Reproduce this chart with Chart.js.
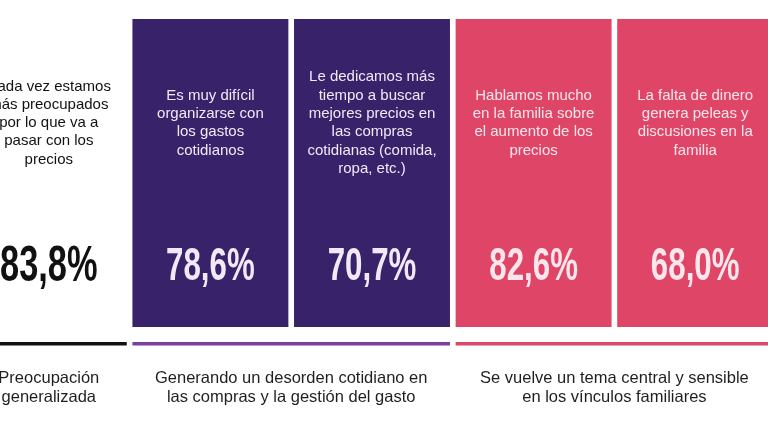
<!DOCTYPE html>
<html>
<head>
<meta charset="utf-8">
<script src="https://cdn.jsdelivr.net/npm/chart.js@4.4.1/dist/chart.umd.min.js"></script>
<style>
	html, body {
		margin: 0;
		padding: 0;
		background: #fff;
		overflow: hidden;
	}
	#wrap {
		position: absolute;
		left: -32px;
		top: 0;
		width: 808px;
		height: 432px;
	}
</style>
</head>
<body>
<div id="wrap"><canvas id="panelsChart" width="808" height="432"></canvas></div>
<script>
const panelsCanvas = document.getElementById("panelsChart");

//////////////////////////////// Data

const statements = [
	["Cada vez estamos", "más preocupados", "por lo que va a", "pasar con los", "precios"],
	["Es muy difícil", "organizarse con", "los gastos", "cotidianos"],
	["Le dedicamos más", "tiempo a buscar", "mejores precios en", "las compras", "cotidianas (comida,", "ropa, etc.)"],
	["Hablamos mucho", "en la familia sobre", "el aumento de los", "precios"],
	["La falta de dinero", "genera peleas y", "discusiones en la", "familia"],
];
const percentages = [83.8, 78.6, 70.7, 82.6, 68.0];

const groupCaptions = [
	["Preocupación", "generalizada"],
	["Generando un desorden cotidiano en", "las compras y la gestión del gasto"],
	["Se vuelve un tema central y sensible", "en los vínculos familiares"],
];
const groupFirst = [0, 1, 3];
const groupLast = [0, 2, 4];

// styles
const panelColors = ["#ffffff", "#38226a", "#38226a", "#de4566", "#de4566"];
const textColors = ["#111111", "#f1e9f7", "#f1e9f7", "#fce6ec", "#fce6ec"];
const numberSizes = [1.1, 1, 1, 1, 1];
const groupColors = ["#111111", "#7b3f9f", "#d9476a"];

const labels = percentages.map((v, i) => "p" + i);

//////////////////////////////// Text plugin

const panelText = {
	id: "panelText",
	afterDatasetsDraw(chart) {
		const ctx = chart.ctx;
		const meta = chart.getDatasetMeta(0);
		const yScale = chart.scales.y;
		const top = yScale.getPixelForValue(1);
		const bottom = yScale.getPixelForValue(0);
		ctx.save();
		ctx.textAlign = "center";
		ctx.textBaseline = "middle";

		meta.data.forEach((bar, i) => {
			const lines = statements[i];
			const lh = 18.3;
			const cy = top + 104;
			ctx.fillStyle = textColors[i];
			ctx.font = "15px 'Liberation Sans', Arial, sans-serif";
			lines.forEach((ln, k) => {
				ctx.fillText(ln, bar.x, cy + (k - (lines.length - 1) / 2) * lh);
			});

			const txt = percentages[i].toFixed(1).replace(".", ",") + "%";
			const s = numberSizes[i];
			ctx.save();
			ctx.translate(bar.x, top + 248);
			ctx.scale(0.68 * s, s);
			ctx.font = "bold 46px 'Liberation Sans', Arial, sans-serif";
			ctx.fillText(txt, 0, 0);
			ctx.restore();
		});

		// group rules and captions
		const half = meta.data[0].width / 2;
		groupCaptions.forEach((cap, g) => {
			const x0 = meta.data[groupFirst[g]].x - half;
			const x1 = meta.data[groupLast[g]].x + half;
			ctx.fillStyle = groupColors[g];
			ctx.fillRect(x0, bottom + 15, x1 - x0, 3.5);

			ctx.fillStyle = "#1f1f1f";
			ctx.font = "16.5px 'Liberation Sans', Arial, sans-serif";
			const cx = (x0 + x1) / 2;
			cap.forEach((ln, k) => {
				ctx.fillText(ln, cx, bottom + 51 + k * 19.8);
			});
		});
		ctx.restore();
	},
};

//////////////////////////////// Chart

new Chart(panelsCanvas, {
	type: "bar",
	data: {
		labels: labels,
		datasets: [
			{
				data: percentages.map(() => [0, 1]),
				backgroundColor: panelColors,
				borderWidth: 0,
				barPercentage: 0.965,
				categoryPercentage: 1,
			},
		],
	},
	options: {
		responsive: false,
		animation: false,
		devicePixelRatio: 1,
		layout: {
			padding: { top: 19, bottom: 105, left: 0, right: 0 },
		},
		scales: {
			x: { display: false },
			y: { display: false, min: 0, max: 1 },
		},
		plugins: {
			legend: { display: false },
			tooltip: { enabled: false },
		},
	},
	plugins: [panelText],
});
</script>
</body>
</html>
